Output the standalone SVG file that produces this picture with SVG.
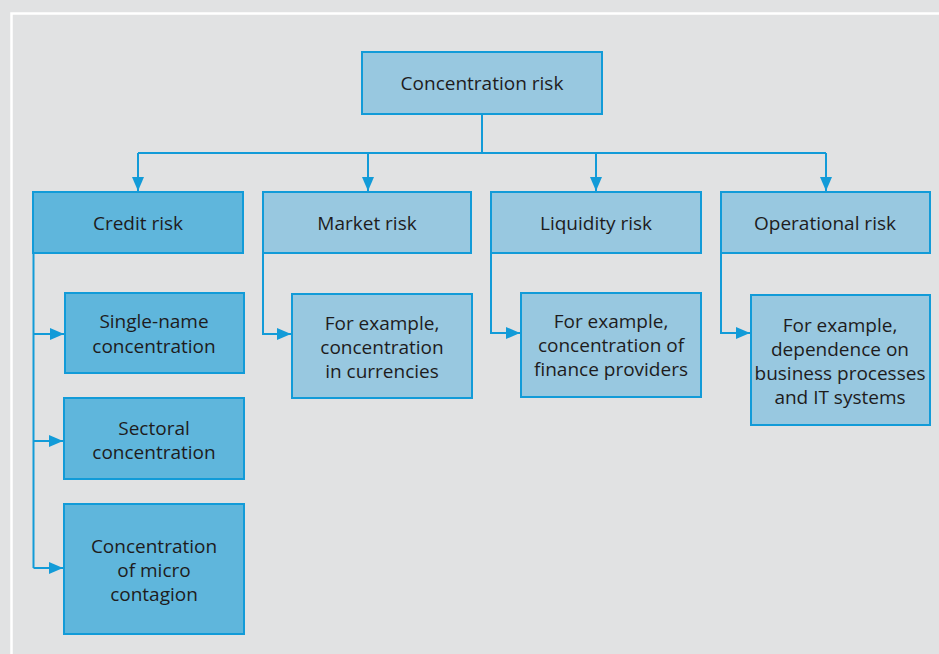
<svg xmlns="http://www.w3.org/2000/svg" width="939" height="654" viewBox="0 0 939 654">
<defs>
<style>
.bg{fill:#e1e2e3}
.frame{fill:none;stroke:#ffffff;stroke-width:2.5}
.lt{fill:#98c8e0;stroke:#129bd8;stroke-width:2}
.dk{fill:#5fb6dc;stroke:#129bd8;stroke-width:2}
.ln{fill:none;stroke:#129bd8;stroke-width:2}
text{font-family:"Open Sans","Noto Sans","Liberation Sans",sans-serif;font-size:19px;fill:#1e1c1d;text-anchor:middle}
</style>
<marker id="ah" viewBox="0 0 14 12" refX="14" refY="6" markerWidth="14" markerHeight="12" markerUnits="userSpaceOnUse" orient="auto">
<path d="M0,0 L14,6 L0,12 Z" fill="#129bd8"/>
</marker>
</defs>
<rect class="bg" x="0" y="0" width="939" height="654"/>
<path class="frame" d="M11.5,660 V13.5 H945"/>
<g id="connectors">
<path class="ln" d="M482,114 V153"/>
<path class="ln" d="M138,153 H826"/>
<path class="ln" d="M138,153 V191" marker-end="url(#ah)"/>
<path class="ln" d="M368,153 V191" marker-end="url(#ah)"/>
<path class="ln" d="M596,153 V191" marker-end="url(#ah)"/>
<path class="ln" d="M826,153 V191" marker-end="url(#ah)"/>
<path class="ln" d="M33.5,253 V568"/>
<path class="ln" d="M33.5,334 H64" marker-end="url(#ah)"/>
<path class="ln" d="M33.5,441 H63" marker-end="url(#ah)"/>
<path class="ln" d="M33.5,568 H63" marker-end="url(#ah)"/>
<path class="ln" d="M263,253 V334 H291" marker-end="url(#ah)"/>
<path class="ln" d="M491,253 V333 H520" marker-end="url(#ah)"/>
<path class="ln" d="M721,253 V333 H750" marker-end="url(#ah)"/>
</g>
<g id="concentration-risk"><rect class="lt" x="362" y="52" width="240" height="62"/><text x="482" y="90">Concentration risk</text></g>
<g id="credit-risk"><rect class="dk" x="33" y="192" width="210" height="61"/><text x="138" y="230">Credit risk</text></g>
<g id="market-risk"><rect class="lt" x="263" y="192" width="208" height="61"/><text x="367" y="230">Market risk</text></g>
<g id="liquidity-risk"><rect class="lt" x="491" y="192" width="210" height="61"/><text x="596" y="230">Liquidity risk</text></g>
<g id="operational-risk"><rect class="lt" x="721" y="192" width="209" height="61"/><text x="825" y="230">Operational risk</text></g>
<g id="single-name"><rect class="dk" x="65" y="293" width="179" height="80"/><text x="154" y="328">Single-name</text><text x="154" y="353">concentration</text></g>
<g id="sectoral"><rect class="dk" x="64" y="398" width="180" height="81"/><text x="154" y="435">Sectoral</text><text x="154" y="459">concentration</text></g>
<g id="micro-contagion"><rect class="dk" x="64" y="504" width="180" height="130"/><text x="154" y="553">Concentration</text><text x="154" y="577">of micro</text><text x="154" y="601">contagion</text></g>
<g id="market-example"><rect class="lt" x="292" y="294" width="180" height="104"/><text x="382" y="330">For example,</text><text x="382" y="354">concentration</text><text x="382" y="378">in currencies</text></g>
<g id="liquidity-example"><rect class="lt" x="521" y="293" width="180" height="104"/><text x="611" y="328">For example,</text><text x="611" y="352">concentration of</text><text x="611" y="376">finance providers</text></g>
<g id="operational-example"><rect class="lt" x="751" y="295" width="179" height="130"/><text x="840" y="332">For example,</text><text x="840" y="356">dependence on</text><text x="840" y="380">business processes</text><text x="840" y="404">and IT systems</text></g>
</svg>
